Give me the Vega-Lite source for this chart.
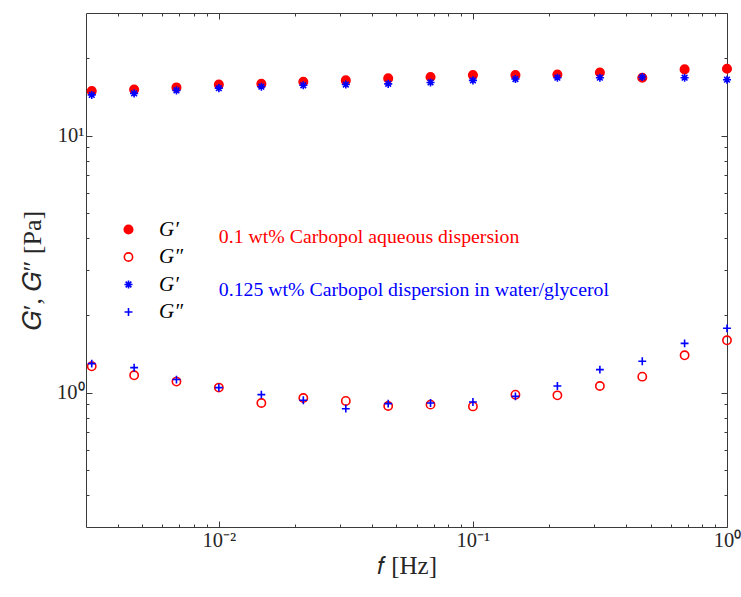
{
  "$schema": "https://vega.github.io/schema/vega-lite/v6.json",
  "width": 641,
  "height": 514,
  "autosize": "none",
  "padding": {"left": 86, "top": 13, "right": 14, "bottom": 70},
  "background": "white",
  "config": {
    "view": {"stroke": null},
    "font": "Liberation Serif",
    "axis": {
      "grid": false,
      "domainColor": "#3a3a3a",
      "domainWidth": 1,
      "tickColor": "#3a3a3a",
      "tickWidth": 1,
      "labelColor": "#262626",
      "labelFont": "Liberation Serif",
      "titleFont": "Liberation Serif",
      "titleFontWeight": "normal",
      "titleColor": "#262626",
      "labelFlush": false,
      "labelOverlap": false
    }
  },
  "datasets": {
    "pts": [
      {"f": 0.00316, "G": 14.9, "s": "a"}, {"f": 0.00464, "G": 15.1, "s": "a"}, {"f": 0.00681, "G": 15.4, "s": "a"}, {"f": 0.01, "G": 15.8, "s": "a"},
      {"f": 0.0147, "G": 15.9, "s": "a"}, {"f": 0.0215, "G": 16.2, "s": "a"}, {"f": 0.0316, "G": 16.4, "s": "a"}, {"f": 0.0464, "G": 16.7, "s": "a"},
      {"f": 0.0681, "G": 16.9, "s": "a"}, {"f": 0.1, "G": 17.2, "s": "a"}, {"f": 0.147, "G": 17.2, "s": "a"}, {"f": 0.215, "G": 17.3, "s": "a"},
      {"f": 0.316, "G": 17.6, "s": "a"}, {"f": 0.464, "G": 16.8, "s": "a"}, {"f": 0.681, "G": 18.1, "s": "a"}, {"f": 1.0, "G": 18.2, "s": "a"},
      {"f": 0.00316, "G": 1.266, "s": "b"}, {"f": 0.00464, "G": 1.168, "s": "b"}, {"f": 0.00681, "G": 1.104, "s": "b"}, {"f": 0.01, "G": 1.046, "s": "b"},
      {"f": 0.0147, "G": 0.911, "s": "b"}, {"f": 0.0215, "G": 0.953, "s": "b"}, {"f": 0.0316, "G": 0.928, "s": "b"}, {"f": 0.0464, "G": 0.887, "s": "b"},
      {"f": 0.0681, "G": 0.898, "s": "b"}, {"f": 0.1, "G": 0.884, "s": "b"}, {"f": 0.147, "G": 0.982, "s": "b"}, {"f": 0.215, "G": 0.976, "s": "b"},
      {"f": 0.316, "G": 1.061, "s": "b"}, {"f": 0.464, "G": 1.154, "s": "b"}, {"f": 0.681, "G": 1.397, "s": "b"}, {"f": 1.0, "G": 1.598, "s": "b"},
      {"f": 0.00316, "G": 14.4, "s": "c"}, {"f": 0.00464, "G": 14.6, "s": "c"}, {"f": 0.00681, "G": 15.0, "s": "c"}, {"f": 0.01, "G": 15.3, "s": "c"},
      {"f": 0.0147, "G": 15.5, "s": "c"}, {"f": 0.0215, "G": 15.7, "s": "c"}, {"f": 0.0316, "G": 15.8, "s": "c"}, {"f": 0.0464, "G": 15.9, "s": "c"},
      {"f": 0.0681, "G": 16.1, "s": "c"}, {"f": 0.1, "G": 16.4, "s": "c"}, {"f": 0.147, "G": 16.6, "s": "c"}, {"f": 0.215, "G": 16.8, "s": "c"},
      {"f": 0.316, "G": 16.8, "s": "c"}, {"f": 0.464, "G": 16.9, "s": "c"}, {"f": 0.681, "G": 16.8, "s": "c"}, {"f": 1.0, "G": 16.5, "s": "c"},
      {"f": 0.00316, "G": 1.297, "s": "d"}, {"f": 0.00464, "G": 1.251, "s": "d"}, {"f": 0.00681, "G": 1.124, "s": "d"}, {"f": 0.01, "G": 1.046, "s": "d"},
      {"f": 0.0147, "G": 0.982, "s": "d"}, {"f": 0.0215, "G": 0.934, "s": "d"}, {"f": 0.0316, "G": 0.866, "s": "d"}, {"f": 0.0464, "G": 0.906, "s": "d"},
      {"f": 0.0681, "G": 0.911, "s": "d"}, {"f": 0.1, "G": 0.919, "s": "d"}, {"f": 0.147, "G": 0.967, "s": "d"}, {"f": 0.215, "G": 1.061, "s": "d"},
      {"f": 0.316, "G": 1.229, "s": "d"}, {"f": 0.464, "G": 1.324, "s": "d"}, {"f": 0.681, "G": 1.555, "s": "d"}, {"f": 1.0, "G": 1.779, "s": "d"}
    ],
    "notesRed": [{"f": 0.01, "G": 4.02, "t": "0.1 wt% Carbopol aqueous dispersion"}],
    "notesBlue": [{"f": 0.01, "G": 2.5, "t": "0.125 wt% Carbopol dispersion in water/glycerol"}]
  },
  "layer": [
    {
      "data": {"name": "pts"},
      "mark": {"type": "point", "filled": false, "strokeWidth": 1.6, "opacity": 1},
      "encoding": {
        "x": {
          "field": "f", "type": "quantitative",
          "scale": {"type": "log", "domain": [0.003, 1], "nice": false},
          "axis": {
            "orient": "bottom", "values": [0.01, 0.1, 1], "tickSize": -6,
            "labelExpr": "datum.value < 0.05 ? '10⁻²' : datum.value < 0.5 ? '10⁻¹' : '10⁰'",
            "labelFontSize": 20.5, "labelPadding": 9, "labelBaseline": "top",
            "title": "𝑓 [Hz]", "titleFontSize": 25, "titlePadding": 3
          }
        },
        "y": {
          "field": "G", "type": "quantitative",
          "scale": {"type": "log", "domain": [0.3, 30], "nice": false},
          "axis": {
            "orient": "left", "values": [1, 10], "tickSize": -6,
            "labelExpr": "datum.value < 5 ? '10⁰' : '10¹'",
            "labelFontSize": 20.5, "labelPadding": 8,
            "title": "𝐺′, 𝐺″ [Pa]", "titleFontSize": 26, "titlePadding": 11
          }
        },
        "shape": {
          "field": "s", "type": "nominal",
          "scale": {"domain": ["a", "b", "c", "d"], "range": ["circle", "circle", "M0,-1L0,1M-1,0L1,0M-0.7,-0.7L0.7,0.7M-0.7,0.7L0.7,-0.7", "M0,-1L0,1M-1,0L1,0"]},
          "legend": {
            "orient": "none", "legendX": 32, "legendY": 206, "title": null, "padding": 0,
            "labelExpr": "datum.value == 'a' || datum.value == 'c' ? 'G′' : 'G″'",
            "labelFont": "Liberation Serif", "labelFontStyle": "italic", "labelFontSize": 21, "labelColor": "black",
            "rowPadding": 5.5, "labelOffset": 20, "symbolStrokeWidth": 1.6
          }
        },
        "stroke": {
          "field": "s", "type": "nominal",
          "scale": {"domain": ["a", "b", "c", "d"], "range": ["#ff0000", "#ff0000", "#0000ff", "#0000ff"]},
          "legend": {
            "orient": "none", "legendX": 32, "legendY": 206, "title": null, "padding": 0,
            "labelExpr": "datum.value == 'a' || datum.value == 'c' ? 'G′' : 'G″'",
            "labelFont": "Liberation Serif", "labelFontStyle": "italic", "labelFontSize": 21, "labelColor": "black",
            "rowPadding": 5.5, "labelOffset": 20, "symbolStrokeWidth": 1.6
          }
        },
        "fill": {
          "field": "s", "type": "nominal",
          "scale": {"domain": ["a", "b", "c", "d"], "range": ["#ff0000", "rgba(255,255,255,0)", "rgba(255,255,255,0)", "rgba(255,255,255,0)"]},
          "legend": {
            "orient": "none", "legendX": 32, "legendY": 206, "title": null, "padding": 0,
            "labelExpr": "datum.value == 'a' || datum.value == 'c' ? 'G′' : 'G″'",
            "labelFont": "Liberation Serif", "labelFontStyle": "italic", "labelFontSize": 21, "labelColor": "black",
            "rowPadding": 5.5, "labelOffset": 20, "symbolStrokeWidth": 1.6
          }
        },
        "size": {
          "field": "s", "type": "nominal",
          "scale": {"domain": ["a", "b", "c", "d"], "range": [72, 62, 115, 120]},
          "legend": {
            "orient": "none", "legendX": 32, "legendY": 206, "title": null, "padding": 0,
            "labelExpr": "datum.value == 'a' || datum.value == 'c' ? 'G′' : 'G″'",
            "labelFont": "Liberation Serif", "labelFontStyle": "italic", "labelFontSize": 21, "labelColor": "black",
            "rowPadding": 5.5, "labelOffset": 20, "symbolStrokeWidth": 1.6
          }
        }
      }
    },
    {
      "data": {"name": "notesRed"},
      "mark": {"type": "text", "align": "left", "baseline": "middle", "color": "#ff0000", "font": "Liberation Serif", "fontSize": 19.8},
      "encoding": {
        "x": {"field": "f", "type": "quantitative", "scale": {"type": "log", "domain": [0.003, 1], "nice": false},
          "axis": {"orient": "bottom", "values": [0.004, 0.005, 0.006, 0.007, 0.008, 0.009, 0.02, 0.03, 0.04, 0.05, 0.06, 0.07, 0.08, 0.09, 0.2, 0.3, 0.4, 0.5, 0.6, 0.7, 0.8, 0.9], "tickSize": -3, "labels": false, "domain": false, "title": null}},
        "y": {"field": "G", "type": "quantitative", "scale": {"type": "log", "domain": [0.3, 30], "nice": false},
          "axis": {"orient": "left", "values": [0.4, 0.5, 0.6, 0.7, 0.8, 0.9, 2, 3, 4, 5, 6, 7, 8, 9, 20], "tickSize": -3, "labels": false, "domain": false, "title": null}},
        "text": {"field": "t"}
      }
    },
    {
      "data": {"name": "notesBlue"},
      "mark": {"type": "text", "align": "left", "baseline": "middle", "color": "#0000ff", "font": "Liberation Serif", "fontSize": 19.8},
      "encoding": {
        "x": {"field": "f", "type": "quantitative", "scale": {"type": "log", "domain": [0.003, 1], "nice": false},
          "axis": {"orient": "top", "values": [0.01, 0.1, 1], "tickSize": -6, "labels": false, "title": null}},
        "y": {"field": "G", "type": "quantitative", "scale": {"type": "log", "domain": [0.3, 30], "nice": false},
          "axis": {"orient": "right", "values": [1, 10], "tickSize": -6, "labels": false, "title": null}},
        "text": {"field": "t"}
      }
    },
    {
      "data": {"name": "pts"},
      "mark": {"type": "point", "opacity": 0},
      "encoding": {
        "x": {"field": "f", "type": "quantitative", "scale": {"type": "log", "domain": [0.003, 1], "nice": false},
          "axis": {"orient": "top", "values": [0.004, 0.005, 0.006, 0.007, 0.008, 0.009, 0.02, 0.03, 0.04, 0.05, 0.06, 0.07, 0.08, 0.09, 0.2, 0.3, 0.4, 0.5, 0.6, 0.7, 0.8, 0.9], "tickSize": -3, "labels": false, "domain": false, "title": null}},
        "y": {"field": "G", "type": "quantitative", "scale": {"type": "log", "domain": [0.3, 30], "nice": false},
          "axis": {"orient": "right", "values": [0.4, 0.5, 0.6, 0.7, 0.8, 0.9, 2, 3, 4, 5, 6, 7, 8, 9, 20], "tickSize": -3, "labels": false, "domain": false, "title": null}}
      }
    }
  ],
  "resolve": {"axis": {"x": "independent", "y": "independent"}}
}
